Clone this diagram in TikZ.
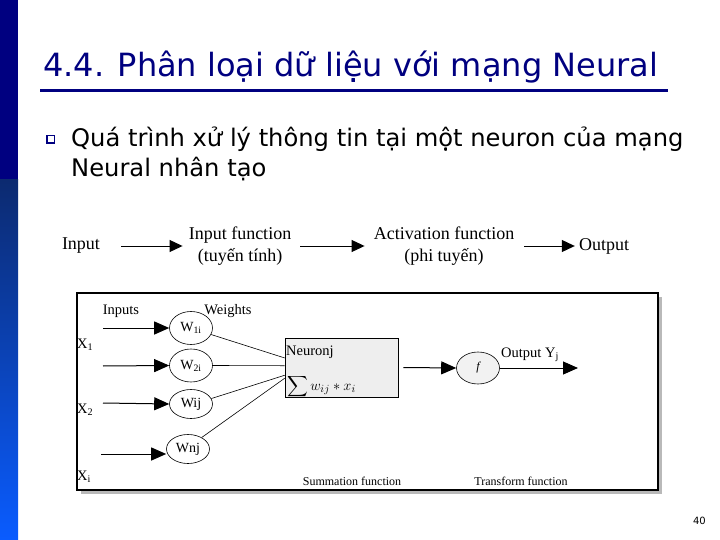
\documentclass[tikz,border=0pt]{standalone}
\usepackage{amsmath}
\usepackage{fontspec}
\setmainfont{Liberation Serif}
\newfontfamily\tah{DejaVu Sans}
\usetikzlibrary{arrows.meta,shapes.geometric,calc}
\definecolor{navyt}{RGB}{0,0,128}
\definecolor{bartop}{RGB}{12,42,112}
\definecolor{barbot}{RGB}{10,92,255}
\begin{document}
\begin{tikzpicture}[x=1pt,y=-1pt,
  arr/.style={line width=1pt,-{Triangle[length=15pt,width=13pt]}},
  toparr/.style={line width=1pt,-{Triangle[length=13pt,width=12pt]}},
  wnode/.style={ellipse,draw,line width=0.6pt,fill=white,minimum width=43pt,minimum height=33pt,inner sep=0pt,font=\fontsize{14}{15}\selectfont},
  flow/.style={font=\fontsize{18}{22}\selectfont,align=center,inner sep=2pt},
  lab/.style={font=\fontsize{14.5}{16}\selectfont,inner sep=0pt},
  small/.style={font=\fontsize{12}{14}\selectfont,inner sep=0pt},
  thinl/.style={line width=0.6pt}]
\useasboundingbox (0,0) rectangle (720,540);
\fill[white] (0,0) rectangle (720,540);
% left bar
\fill[navyt] (0,0) rectangle (18,180);
\shade[top color=bartop,bottom color=barbot] (0,180) rectangle (18,540);
% title
\node[anchor=base west,inner sep=0pt,text=navyt,font=\tah\fontsize{32}{36}\selectfont] (title) at (43,77) {4.4. Phân loại dữ liệu với mạng Neural};
\draw[navyt,line width=3pt] (40,91) -- (668,91);
% bullet
\draw[navyt,line width=1.6pt] (47,135.5) rectangle (54.5,143);
\node[anchor=base west,inner sep=0pt,font=\tah\fontsize{24.2}{28}\selectfont] (b1) at (71,147) {Quá trình xử lý thông tin tại một neuron của mạng};
\node[anchor=base west,inner sep=0pt,font=\tah\fontsize{24.2}{28}\selectfont] (b2) at (71,177) {Neural nhân tạo};
% top flow
\node[flow] (in) at (81,246) {Input};
\node[flow] (if) at (240,246) {Input function\\(tuyến tính)};
\node[flow] (af) at (444,246) {Activation function\\(phi tuyến)};
\node[flow] (out) at (604,246) {Output};
\draw[toparr] ([xshift=19pt]in.east) -- ([xshift=-4pt]if.west);
\draw[toparr] ([xshift=7pt]if.east) -- ([xshift=-7pt]af.west);
\draw[toparr] ([xshift=8pt]af.east) -- ([xshift=-2pt]out.west);
% frame
\fill[gray!55] (81,297) rectangle (662,494);
\draw[line width=1.2pt,fill=white] (77,293) rectangle (658,490);
% labels
\node[lab] (inputs) at (121,311) {Inputs};
\node[lab] (weights) at (228,311) {Weights};
\node[lab,anchor=west] (x1) at (77,345) {X\textsubscript{1}};
\node[lab,anchor=west] (x2) at (77,410) {X\textsubscript{2}};
\node[lab,anchor=west] (xi) at (77,477) {X\textsubscript{i}};
% weight ellipses
\node[wnode] (e1) at (191,328) {W\textsubscript{1i}};
\node[wnode] (e2) at (191,365.5) {W\textsubscript{2i}};
\node[wnode,minimum height=29pt] (e3) at (191,404) {Wij};
\node[wnode,minimum height=29pt] (e4) at (188,449) {Wnj};
\coordinate (s1) at (103,328);
\coordinate (s2) at (103,366);
\coordinate (s3) at (103,403);
\coordinate (s4) at (101,454);
\draw[arr] (s1) -- (e1.west);
\draw[arr] (s2) -- (e2.west);
\draw[arr] (s3) -- (e3.west);
\draw[arr] (s4) -- (e4.west |- s4);
% neuron box
\node[draw,line width=0.6pt,fill=gray!13,minimum width=113pt,minimum height=59pt,inner sep=0pt] (nb) at (341.5,367.5) {};
\node[lab,anchor=west] (nj) at (286,352) {Neuronj};
\node[anchor=west,inner sep=0pt,font=\fontsize{15}{17}\selectfont] (sum) at (287,386.5) {$\displaystyle\sum w_{ij} * x_i$};
\draw[thinl] (e1.-18) -- ($(nb.north west)!0.34!(nb.south west)$);
\draw[thinl] (e2.east) -- ($(nb.north west)!0.47!(nb.south west)$);
\draw[thinl] (e3.15) -- ($(nb.north west)!0.63!(nb.south west)$);
\draw[thinl] (e4.40) -- ($(nb.north west)!0.68!(nb.south west)$);
% transform
\node[ellipse,draw,line width=0.6pt,fill=gray!10,minimum width=43pt,minimum height=32pt,inner sep=0pt] (f) at (478,368) {\fontsize{12}{12}\selectfont\itshape f};
\draw[arr] ([xshift=5pt]nb.east) -- (f.west);
\coordinate (o) at (578,368);
\draw[arr] (f.east) -- (o);
\node[lab] (oy) at (530,355) {Output Y\textsubscript{j}};
\node[small] (sf) at (352,481) {Summation function};
\node[small] (tf) at (521,481) {Transform function};
% page number
\node[anchor=base east,inner sep=0pt,font=\tah\fontsize{10}{12}\selectfont] (pn) at (706,524) {40};
\end{tikzpicture}
\end{document}
